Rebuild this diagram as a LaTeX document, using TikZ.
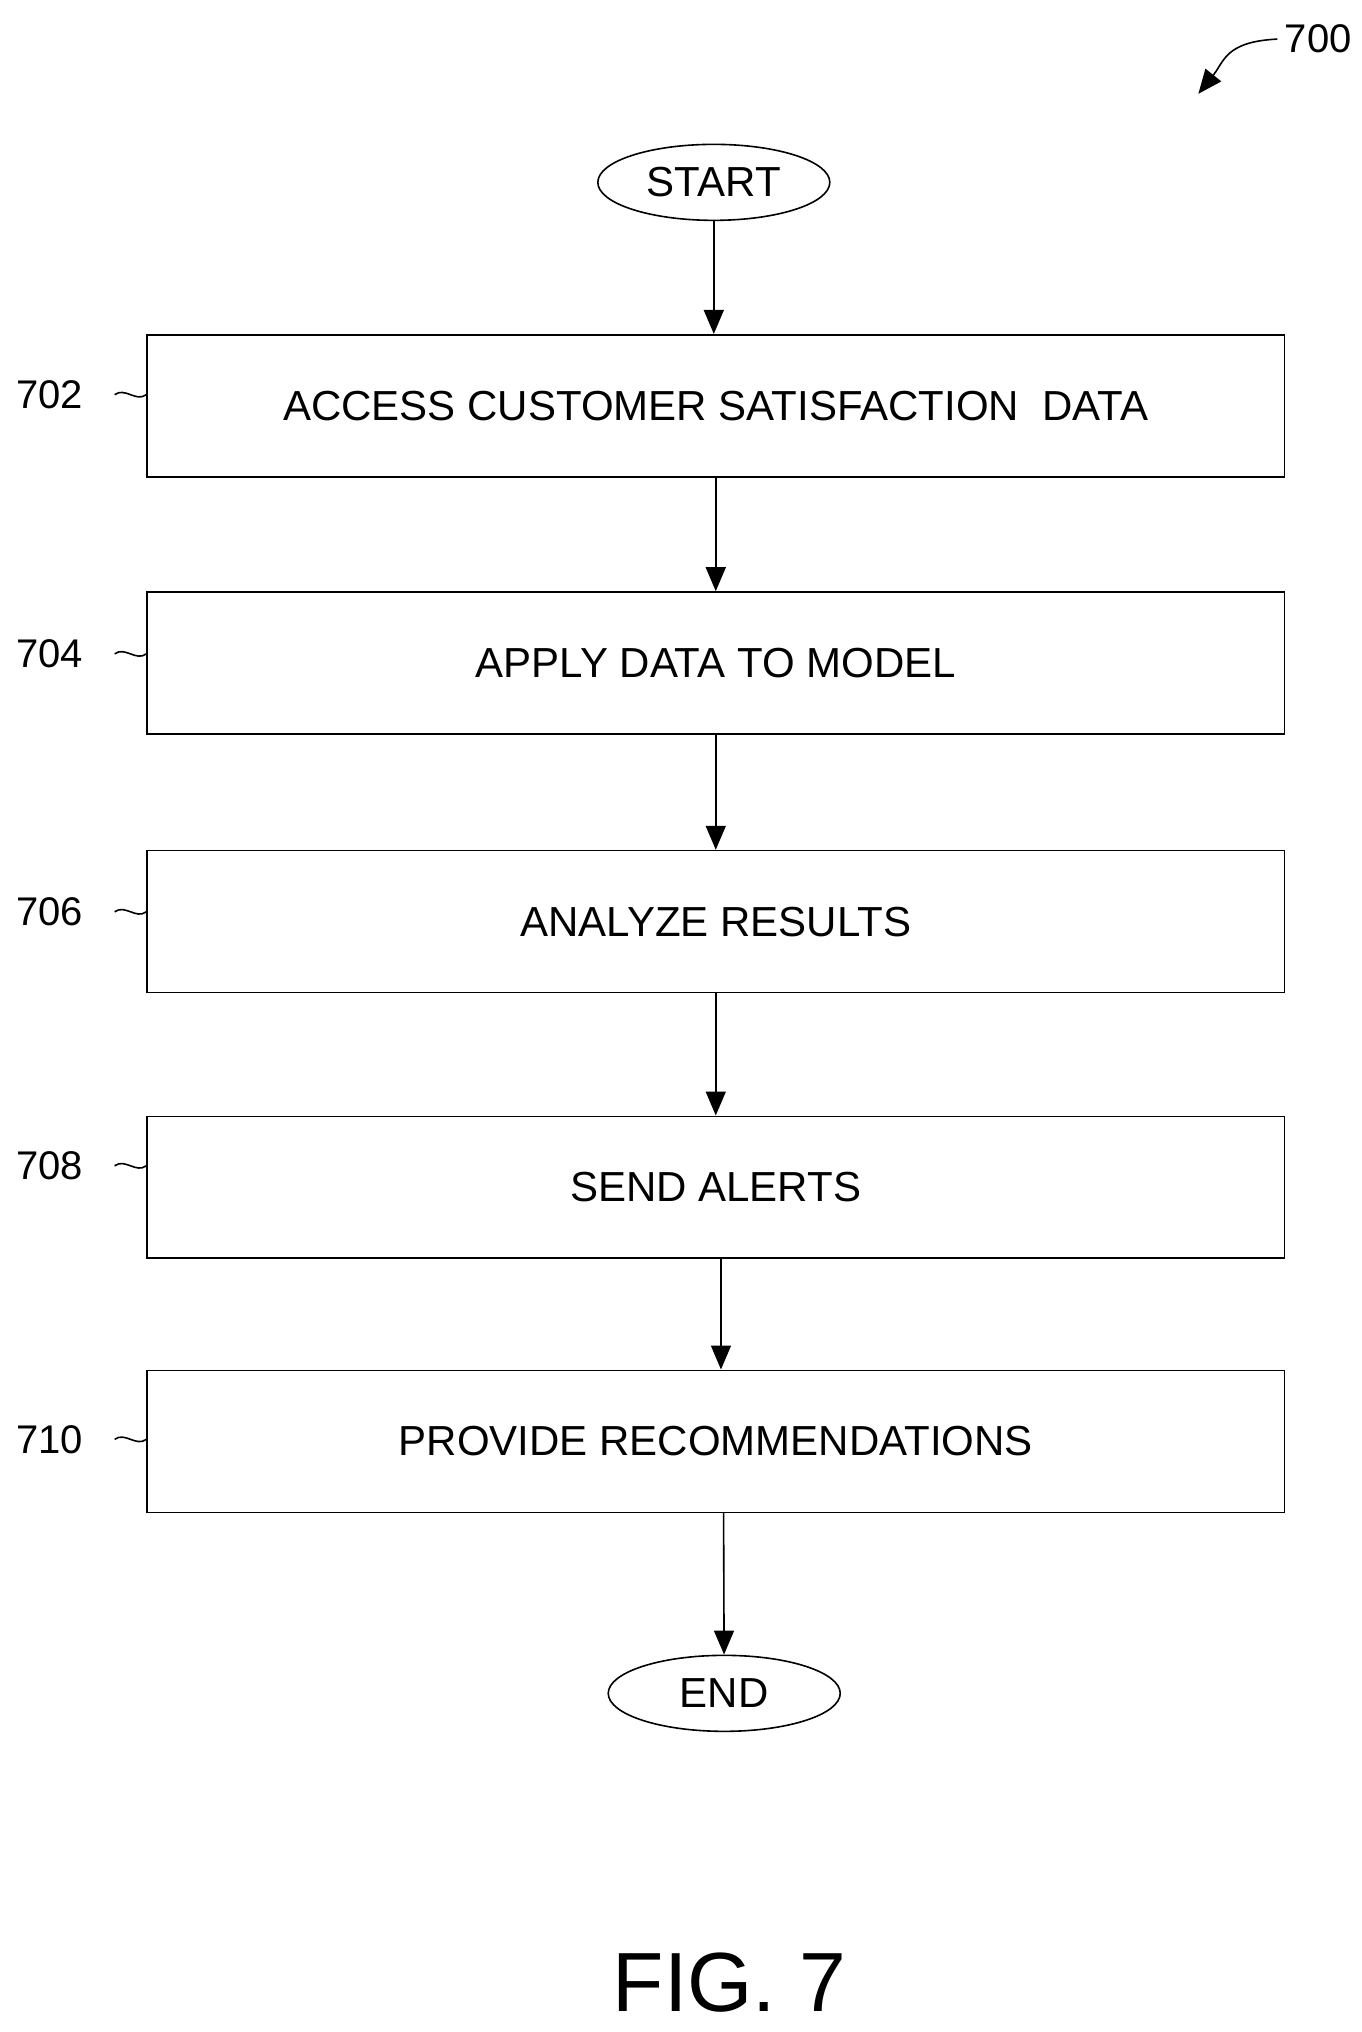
\documentclass[tikz,border=0pt]{standalone}
\usepackage{fontspec}
\setmainfont{Liberation Sans}
\usetikzlibrary{shapes.geometric,arrows.meta,calc}
\tikzset{
  procbox/.style={draw,minimum width=568.6pt,minimum height=71pt,inner sep=0pt,font=\fontsize{21}{25}\selectfont},
  term/.style={draw,ellipse,minimum width=116pt,minimum height=38pt,inner sep=0pt,font=\fontsize{21}{25}\selectfont},
  ref/.style={font=\fontsize{20}{24}\selectfont},
  flow/.style={-{Triangle[length=12pt,width=10pt]},thick}
}
\begin{document}
\begin{tikzpicture}[x=0.6513pt,y=-0.6513pt,line width=0.8pt]
\useasboundingbox (0,0) rectangle (1045,1560);
\node[term] (start) at (548,140) {START};
\node[procbox] (s702) at (549.5,311.5) {ACCESS CUSTOMER SATISFACTION\ \ DATA};
\node[procbox] (s704) at (549.5,509) {APPLY DATA TO MODEL};
\node[procbox] (s706) at (549.5,707.5) {ANALYZE RESULTS};
\node[procbox] (s708) at (549.5,911.5) {SEND ALERTS};
\node[procbox] (s710) at (549.5,1106.5) {PROVIDE RECOMMENDATIONS};
\node[term] (end) at (556,1300) {END};
\draw[flow] (start) -- (s702.north -| start);
\draw[flow] (s702) -- (s704);
\draw[flow] (s704) -- (s706);
\draw[flow] (s706) -- (s708);
\draw[flow] ($(s708.south)+(4,0)$) -- ($(s710.north)+(4,0)$);
\draw[flow] ($(s710.south)+(6,0)$) -- (end);
% step labels
\foreach \n/\y in {702/303,704/502,706/700,708/895,710/1105}{
  \node[ref] (l\n) at (38,\y) {\n};
  \coordinate (a\n) at (88,\y);
  \draw (a\n) .. controls +(8,-6) and +(-8,6) .. (s\n.west |- a\n);
}
\node[ref] (l700) at (1012,30) {700};
\draw[flow] (l700.west) .. controls +(-40,2) and +(20,-25) .. (920,72);
\node[font=\fontsize{42}{48}\selectfont] (fig) at (560,1522) {FIG. 7};
\end{tikzpicture}
\end{document}
